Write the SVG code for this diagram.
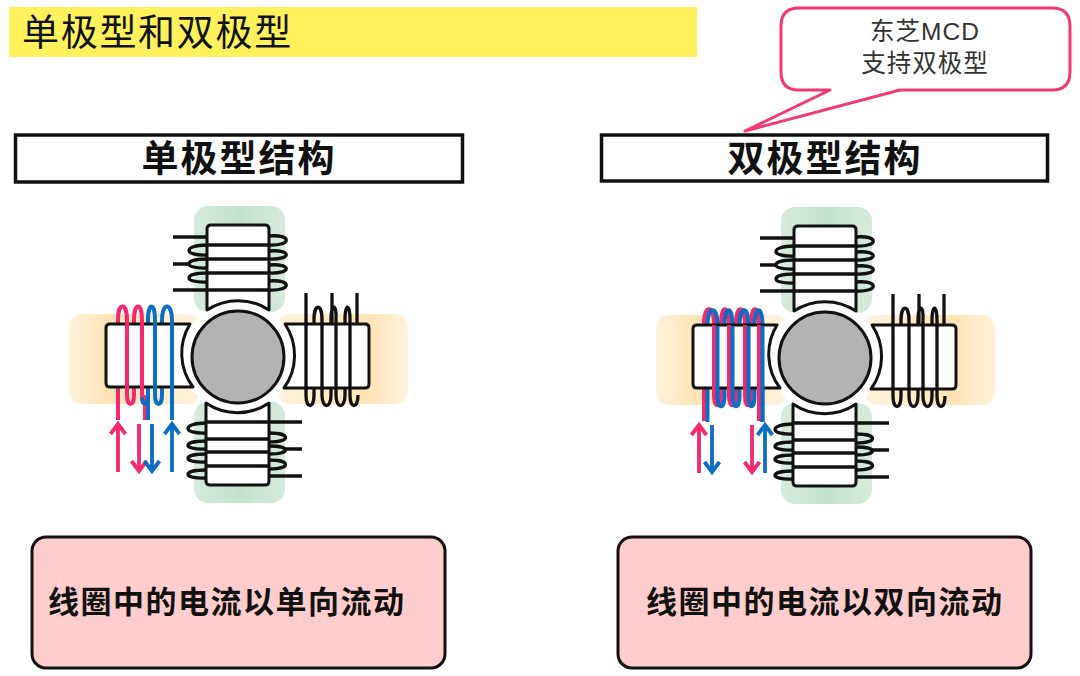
<svg xmlns="http://www.w3.org/2000/svg" width="1080" height="676" viewBox="0 0 1080 676">
<style>
.cjk{font-family:"Liberation Sans","Noto Sans CJK SC",sans-serif;fill:#111}
.hd{font-size:37px;font-weight:700;letter-spacing:2px;text-anchor:middle}
.nt{font-size:31px;font-weight:700;letter-spacing:1.5px}
.cl{font-size:24.500px;letter-spacing:1px;fill:#333;text-anchor:middle}
.box{fill:#fff;stroke:#111;stroke-width:3.5}
.note{fill:#ffcecc;stroke:#111;stroke-width:3}
.pole{fill:#fff;stroke:#111;stroke-width:3;stroke-linejoin:round}
.wire{fill:none;stroke:#111;stroke-width:3.3}
.p{fill:none;stroke:#f5286e;stroke-width:4}
.b{fill:none;stroke:#0a6fc4;stroke-width:4}
.pa{fill:none;stroke:#f5286e;stroke-width:3.8;marker-end:url(#hp)}
.ba{fill:none;stroke:#0a6fc4;stroke-width:3.8;marker-end:url(#hb)}
</style>
<defs>
<linearGradient id="yl" x1="0" x2="1" y1="0" y2="0"><stop offset="0" stop-color="#fff3de"/><stop offset=".3" stop-color="#fee4b6"/><stop offset="1" stop-color="#fff3de"/></linearGradient>
<linearGradient id="yr" x1="1" x2="0" y1="0" y2="0"><stop offset="0" stop-color="#fff3de"/><stop offset=".3" stop-color="#fee4b6"/><stop offset="1" stop-color="#fff3de"/></linearGradient>
<linearGradient id="gn" x1="0" x2="1" y1="0" y2="0"><stop offset="0" stop-color="#d6ebdd"/><stop offset=".5" stop-color="#c3e2ce"/><stop offset="1" stop-color="#d6ebdd"/></linearGradient>
<marker id="hp" markerUnits="userSpaceOnUse" markerWidth="20" markerHeight="20" refX="13" refY="10" orient="auto"><path d="M3 2.500L13 10L3 17.500" fill="none" stroke="#f5286e" stroke-width="3.8"/></marker>
<marker id="hb" markerUnits="userSpaceOnUse" markerWidth="20" markerHeight="20" refX="13" refY="10" orient="auto"><path d="M3 2.500L13 10L3 17.500" fill="none" stroke="#0a6fc4" stroke-width="3.800"/></marker>
<g id="back">
<rect x="69" y="314" width="131" height="90" rx="13" fill="url(#yl)"/>
<rect x="277" y="314" width="131" height="90" rx="13" fill="url(#yr)"/>
<rect x="194" y="206" width="91" height="106" rx="14" fill="url(#gn)"/>
<rect x="194" y="402" width="91" height="101" rx="14" fill="url(#gn)"/>
<circle cx="238" cy="357" r="56" fill="#fff"/>
</g>
<g id="coils-behind">
<path class="wire" d="M269 236C292 234 292 246 269 245M269 251C292 249 292 260 269 259M269 265C292 263 292 274 269 273M269 281C292 279 292 291 269 290M207 245C183 245 183 256 207 255M207 259C183 259 183 269 207 268M207 273C183 273 183 283 207 282"/>
<path class="wire" d="M206 423C182 423 182 434 206 433M206 441C182 441 182 450 206 449M206 454C182 454 182 463 206 462M206 470C182 470 182 479 206 478M269 433C291 433 291 442 269 442M269 446C291 446 291 454 269 454M269 460C291 460 291 469 269 469"/>
<path class="wire" d="M314 395V320C314 303 322 303 322 320M322 395C322 409 331 409 331 395V320C331 303 337 303 336 320M336 395C336 409 345 409 345 395V320C345 303 350 303 350 320M350 395C350 409 358 409 358 395M306 395C306 409 314 409 314 395M332 293V324M357 293V324"/>
</g>
<g id="stator">
<path class="pole" d="M190 324H110q-4 0-4 4V383q0 4 4 4H193A56 56 0 0 1 190 324Z"/>
<path class="pole" d="M285 324H365q4 0 4 4V384q0 4-4 4H284A56 56 0 0 0 285 324Z"/>
<path class="pole" d="M207 310V229q0-4 4-4H265q4 0 4 4V310A56 56 0 0 0 207 310Z"/>
<path class="pole" d="M206 403V481q0 4 4 4H265q4 0 4-4V403A56 56 0 0 1 206 403Z"/>
<circle cx="238" cy="357" r="46" fill="#b3b3b3" stroke="#111" stroke-width="3"/>
</g>
<g id="coils-front">
<path class="wire" d="M207 245H269M207 259H269M207 273H269M173 290H269M173 237H207M173 264H190"/>
<path class="wire" d="M206 422H302M206 439H269M206 452H269M206 466H269M269 476H302M285 449H302"/>
<path class="wire" d="M306 293V395M322 320V395M336 320V395M350 320V395"/>
</g>
<path id="dual" d="M704 421V325C704 304 714 304 714 325V394C714 409 721 409 721 394V325C721 304 729 304 729 325V394C729 409 736 409 736 394V325C736 304 745 304 745 325V394C745 409 751 409 751 394V325C751 304 759 304 759 325V421"/>
</defs>
<g id="title"><rect x="9" y="7" width="688" height="50" fill="#fff25c"/><text class="cjk" x="22" y="46" font-size="37" letter-spacing="1.700">单极型和双极型</text></g>
<g id="callout">
<path d="M799 8H1052Q1070 8 1070 26V72Q1070 90 1052 90H900L745 131L830 90H799Q781 90 781 72V26Q781 8 799 8Z" fill="#fff" stroke="#f03a74" stroke-width="3" stroke-linejoin="round"/>
<text class="cjk cl" x="925" y="40">东芝MCD</text><text class="cjk cl" x="925" y="72">支持双极型</text>
</g>
<g id="header-unipolar"><rect class="box" x="15.500" y="135" width="447" height="47"/><text class="cjk hd" x="239" y="172">单极型结构</text></g>
<g id="header-bipolar"><rect class="box" x="601.500" y="135" width="446" height="46"/><text class="cjk hd" x="825" y="172">双极型结构</text></g>
<g id="motor-unipolar">
<use href="#back"/>
<use href="#coils-behind"/>
<path class="p" d="M118 420V320C118 302 127 302 127 320M127 395C127 407 134 407 134 395V320C134 302 142 302 142 320M142 395C142 406 145 406 145 395V420"/>
<path class="b" d="M148 420V320C148 302 155 302 155 320M155 395C155 407 162 407 162 395V320C162 302 172 302 172 320M148 395C148 406 142 406 142 397"/>
<use href="#stator"/>
<use href="#coils-front"/>
<path class="p" d="M127 320V395M142 320V395"/>
<path class="b" d="M155 320V395M172 320V420"/>
</g>
<g id="motor-bipolar">
<use href="#back" transform="translate(587 1)"/>
<use href="#coils-behind" transform="translate(587 1)"/>
<use href="#dual" class="p"/>
<use href="#dual" class="b" transform="translate(3.5 1)"/>
<use href="#stator" transform="translate(587 1)"/>
<use href="#coils-front" transform="translate(587 1)"/>
<path class="p" d="M714 325V394M729 325V394M745 325V394M759 325V421"/>
<path class="b" d="M717.500 326V395M732.500 326V395M748.500 326V395M762.500 326V422"/>
</g>
<g id="connectors">
<path class="pa" d="M118 472V424"/><path class="pa" d="M139 424V471"/><path class="ba" d="M152 424V471"/><path class="ba" d="M172 472V424"/>
<path class="pa" d="M699 473V425"/><path class="ba" d="M712 425V472"/><path class="pa" d="M752 425V472"/><path class="ba" d="M765 473V425"/>
</g>
<g id="note-unipolar"><rect class="note" x="32" y="537" width="413" height="131" rx="14"/><text class="cjk nt" x="48" y="613">线圈中的电流以单向流动</text></g>
<g id="note-bipolar"><rect class="note" x="618" y="537" width="413" height="131" rx="14"/><text class="cjk nt" x="646" y="613">线圈中的电流以双向流动</text></g>
</svg>
